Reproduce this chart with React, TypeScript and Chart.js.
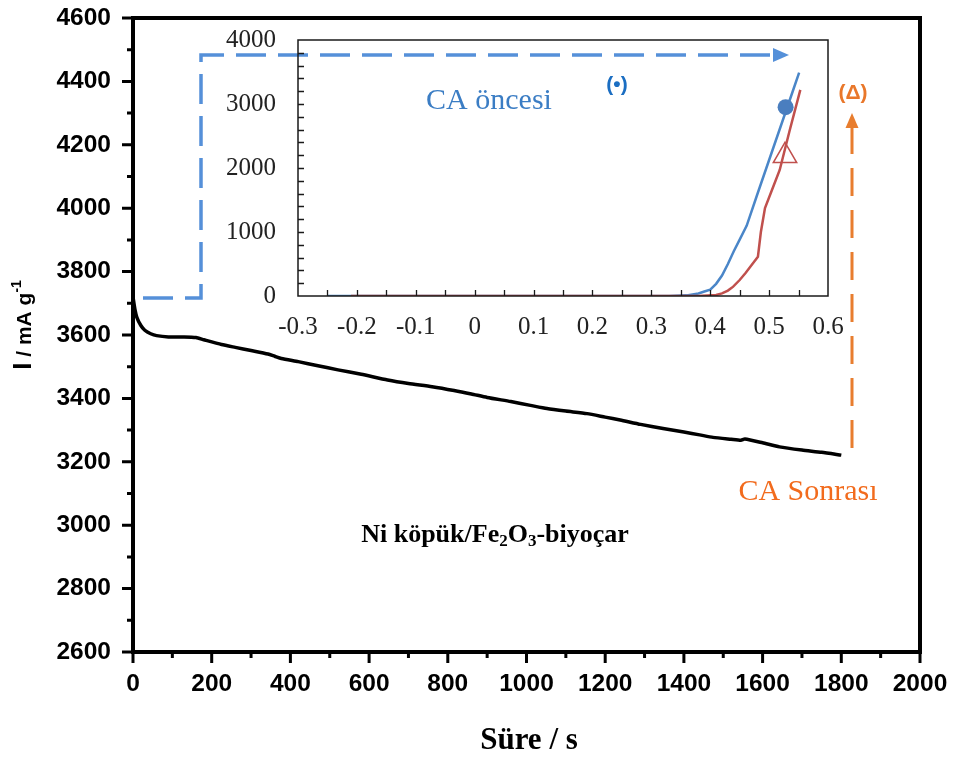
import React, { useEffect, useRef } from "react";
import { Chart, registerables } from "chart.js";
Chart.register(...registerables);

// Main chronoamperometry curve
const timeS = [0, 5, 10, 20, 30, 45, 60, 90, 130, 160, 180, 225, 260, 300, 343, 360, 377, 420, 470, 521, 580, 647, 700, 760, 816, 860, 900, 960, 1010, 1052, 1100, 1154, 1200, 1238, 1290, 1347, 1400, 1440, 1474, 1520, 1545, 1555, 1600, 1643, 1700, 1750, 1800];
const currentMain = [3720, 3680, 3655, 3630, 3615, 3604, 3598, 3594, 3594, 3592, 3585, 3570, 3561, 3551, 3540, 3533, 3526, 3516, 3503, 3490, 3476, 3458, 3447, 3437, 3425, 3414, 3403, 3390, 3378, 3368, 3360, 3352, 3341, 3332, 3318, 3305, 3294, 3285, 3277, 3271, 3268, 3272, 3260, 3247, 3237, 3230, 3221];
const mainXTicks = [0, 200, 400, 600, 800, 1000, 1200, 1400, 1600, 1800, 2000];
const mainYTicks = [2600, 2800, 3000, 3200, 3400, 3600, 3800, 4000, 4200, 4400, 4600];

// Inset LSV curves
const blueV = [-0.25, -0.2, -0.1, 0, 0.1, 0.2, 0.3, 0.33, 0.36, 0.38, 0.39, 0.4, 0.41, 0.42, 0.43, 0.44, 0.45, 0.462, 0.48, 0.5, 0.52, 0.54, 0.551];
const blueI = [0, 0, 0, 0, 0, 0, 0, 0, 10, 40, 70, 100, 190, 320, 500, 700, 880, 1100, 1590, 2125, 2660, 3195, 3490];
const redV = [-0.21, -0.1, 0, 0.1, 0.2, 0.3, 0.38, 0.41, 0.42, 0.43, 0.439, 0.45, 0.46, 0.47, 0.481, 0.486, 0.493, 0.505, 0.518, 0.535, 0.553];
const redI = [0, 0, 0, 0, 0, 0, 0, 15, 40, 85, 146, 250, 360, 480, 614, 1000, 1375, 1660, 1969, 2590, 3220];
const blueMarker = { x: 0.528, y: 2950 };
const redMarker = { x: 0.527, y: 2190 };
const insetXTicks = [-0.3, -0.2, -0.1, 0, 0.1, 0.2, 0.3, 0.4, 0.5, 0.6];
const insetXLabels = ["-0.3", "-0.2", "-0.1", "0", "0.1", "0.2", "0.3", "0.4", "0.5", "0.6"];
const insetYTicks = [0, 1000, 2000, 3000, 4000];

const SANS = "'Liberation Sans', Arial, sans-serif";
const SERIF = "'Liberation Serif', 'Times New Roman', serif";

function drawSegments(ctx: CanvasRenderingContext2D, segs: { t: string; font: string; dy: number }[], cx: number, baseY: number) {
  let w = 0;
  for (const s of segs) { ctx.font = s.font; w += ctx.measureText(s.t).width; }
  let x = cx - w / 2;
  ctx.textAlign = "left";
  ctx.textBaseline = "alphabetic";
  for (const s of segs) {
    ctx.font = s.font;
    ctx.fillText(s.t, x, baseY + s.dy);
    x += ctx.measureText(s.t).width;
  }
}

const mainDecor = {
  id: "mainDecor",
  afterDraw(chart: any) {
    const { ctx, chartArea: a, scales } = chart;
    const x = scales.x, y = scales.y;
    ctx.save();
    // frame
    ctx.strokeStyle = "#000";
    ctx.lineWidth = 4;
    ctx.strokeRect(a.left, a.top, a.right - a.left, a.bottom - a.top);
    // ticks
    ctx.lineWidth = 3;
    ctx.beginPath();
    for (let v = 2600; v <= 4600; v += 100) {
      const py = y.getPixelForValue(v);
      const len = v % 200 === 0 ? 11 : 6;
      ctx.moveTo(a.left - len, py); ctx.lineTo(a.left, py);
    }
    for (let v = 0; v <= 2000; v += 100) {
      const px = x.getPixelForValue(v);
      const len = v % 200 === 0 ? 11 : 6;
      ctx.moveTo(px, a.bottom); ctx.lineTo(px, a.bottom + len);
    }
    ctx.stroke();

    // tick labels
    ctx.fillStyle = "#000";
    ctx.font = `bold 24.5px ${SANS}`;
    ctx.textAlign = "right";
    ctx.textBaseline = "middle";
    for (const v of mainYTicks) ctx.fillText(String(v), a.left - 22, y.getPixelForValue(v));
    ctx.textAlign = "center";
    for (const v of mainXTicks) ctx.fillText(String(v), x.getPixelForValue(v), a.bottom + 32);

    // blue dashed arrow
    ctx.strokeStyle = "#5590d9";
    ctx.fillStyle = "#5590d9";
    ctx.lineWidth = 3.5;
    ctx.setLineDash([30, 12]);
    ctx.beginPath();
    ctx.moveTo(143, 298); ctx.lineTo(201, 298); ctx.lineTo(201, 55); ctx.lineTo(774, 55);
    ctx.stroke();
    ctx.setLineDash([]);
    ctx.beginPath();
    ctx.moveTo(789, 55); ctx.lineTo(773, 48); ctx.lineTo(773, 62); ctx.closePath(); ctx.fill();

    // orange dashed arrow
    ctx.strokeStyle = "#e87d2e";
    ctx.fillStyle = "#e87d2e";
    ctx.lineWidth = 3;
    ctx.setLineDash([28, 14]);
    ctx.beginPath();
    ctx.moveTo(852, 448); ctx.lineTo(852, 128);
    ctx.stroke();
    ctx.setLineDash([]);
    ctx.beginPath();
    ctx.moveTo(852, 113); ctx.lineTo(845.5, 128); ctx.lineTo(858.5, 128); ctx.closePath(); ctx.fill();

    // texts
    ctx.textAlign = "center";
    ctx.textBaseline = "middle";
    ctx.font = `bold 21px ${SANS}`;
    ctx.fillStyle = "#1b6ec2";
    ctx.fillText("(•)", 617, 85);
    ctx.fillStyle = "#e9772a";
    ctx.fillText("(Δ)", 853, 93);
    ctx.font = `30px ${SERIF}`;
    ctx.fillStyle = "#3b7dc4";
    ctx.fillText("CA öncesi", 489, 101);
    ctx.fillStyle = "#f26b1d";
    ctx.fillText("CA Sonrası", 808, 492);

    ctx.fillStyle = "#000";
    const bMain = `bold 26px ${SERIF}`;
    const bSub = `bold 17px ${SERIF}`;
    drawSegments(ctx, [
      { t: "Ni köpük/Fe", font: bMain, dy: 0 },
      { t: "2", font: bSub, dy: 4 },
      { t: "O", font: bMain, dy: 0 },
      { t: "3", font: bSub, dy: 4 },
      { t: "-biyoçar", font: bMain, dy: 0 },
    ], 495, 542);

    // x title
    ctx.textAlign = "center";
    ctx.textBaseline = "middle";
    ctx.font = `bold 31px ${SERIF}`;
    ctx.fillText("Süre / s", 529, 741);

    // y title
    ctx.save();
    ctx.translate(22, 325);
    ctx.rotate(-Math.PI / 2);
    drawSegments(ctx, [
      { t: "I", font: `bold 26px ${SANS}`, dy: 0 },
      { t: " / mA g", font: `bold 21px ${SANS}`, dy: 0 },
      { t: "-1", font: `bold 14px ${SANS}`, dy: -10 },
    ], 0, 9);
    ctx.restore();

    ctx.restore();
  },
};

const insetDecor = {
  id: "insetDecor",
  afterDraw(chart: any) {
    const { ctx, chartArea: a, scales } = chart;
    const x = scales.x, y = scales.y;
    ctx.save();
    ctx.strokeStyle = "#1a1a1a";
    ctx.lineWidth = 1.5;
    ctx.strokeRect(a.left, a.top, a.right - a.left, a.bottom - a.top);
    ctx.lineWidth = 1.3;
    ctx.beginPath();
    for (let v = 200; v < 4000; v += 200) {
      const py = Math.round(y.getPixelForValue(v)) + 0.5;
      ctx.moveTo(a.left, py); ctx.lineTo(a.left + 6, py);
    }
    for (let k = 1; k < 18; k++) {
      const v = -0.3 + k * 0.05;
      const px = Math.round(x.getPixelForValue(v)) + 0.5;
      ctx.moveTo(px, a.bottom); ctx.lineTo(px, a.bottom - 6);
    }
    ctx.stroke();

    ctx.fillStyle = "#222";
    ctx.font = `25px ${SERIF}`;
    ctx.textAlign = "right";
    ctx.textBaseline = "middle";
    for (const v of insetYTicks) ctx.fillText(String(v), a.left - 22, y.getPixelForValue(v));
    ctx.textAlign = "center";
    insetXTicks.forEach((v, i) => ctx.fillText(insetXLabels[i], x.getPixelForValue(v), a.bottom + 31));
    ctx.restore();
  },
};

export default function App() {
  const mainRef = useRef<HTMLCanvasElement>(null);
  const insetRef = useRef<HTMLCanvasElement>(null);

  useEffect(() => {
    const hiddenAxis = (min: number, max: number, fit: (s: any) => void) => ({
      type: "linear",
      min,
      max,
      grid: { display: false, drawTicks: false },
      border: { display: false },
      ticks: { display: false },
      afterFit: fit,
    });

    const main = new Chart(mainRef.current as HTMLCanvasElement, {
      type: "line",
      data: {
        datasets: [
          {
            data: timeS.map((t, i) => ({ x: t, y: currentMain[i] })),
            borderColor: "#000",
            borderWidth: 3.5,
            pointRadius: 0,
            tension: 0.2,
            fill: false,
          },
        ],
      },
      options: {
        animation: false,
        responsive: false,
        maintainAspectRatio: false,
        layout: { padding: { top: 18, right: 36, left: 0, bottom: 0 } },
        plugins: { legend: { display: false }, tooltip: { enabled: false } },
        scales: {
          x: hiddenAxis(0, 2000, (s: any) => { s.height = 108; }),
          y: hiddenAxis(2600, 4600, (s: any) => { s.width = 133; }),
        },
      } as any,
      plugins: [mainDecor],
    });

    const inset = new Chart(insetRef.current as HTMLCanvasElement, {
      type: "line",
      data: {
        datasets: [
          {
            data: [blueMarker],
            showLine: false,
            pointStyle: "circle",
            pointRadius: 8,
            backgroundColor: "#4a7ebf",
            borderColor: "#4a7ebf",
            borderWidth: 0,
          },
          {
            data: [redMarker],
            showLine: false,
            pointStyle: "triangle",
            pointRadius: 13.5,
            backgroundColor: "rgba(0,0,0,0)",
            borderColor: "#c0504d",
            borderWidth: 1.5,
          },
          {
            data: redV.map((v, i) => ({ x: v, y: redI[i] })),
            borderColor: "#c0504d",
            borderWidth: 2.5,
            pointRadius: 0,
            tension: 0,
            fill: false,
          },
          {
            data: blueV.map((v, i) => ({ x: v, y: blueI[i] })),
            borderColor: "#4a86c8",
            borderWidth: 2.5,
            pointRadius: 0,
            tension: 0,
            fill: false,
          },
        ],
      },
      options: {
        animation: false,
        responsive: false,
        maintainAspectRatio: false,
        layout: { padding: { top: 40, right: 128, left: 0, bottom: 0 } },
        plugins: { legend: { display: false }, tooltip: { enabled: false } },
        scales: {
          x: hiddenAxis(-0.3, 0.6, (s: any) => { s.height = 464; }),
          y: hiddenAxis(0, 4000, (s: any) => { s.width = 298; }),
        },
      } as any,
      plugins: [insetDecor],
    });

    return () => {
      main.destroy();
      inset.destroy();
    };
  }, []);

  return (
    <div style={{ position: "fixed", left: 0, top: 0, width: 956, height: 760, background: "#fff" }}>
      <canvas ref={mainRef} width={956} height={760} style={{ position: "absolute", left: 0, top: 0, display: "block" }} />
      <canvas ref={insetRef} width={956} height={760} style={{ position: "absolute", left: 0, top: 0, display: "block" }} />
    </div>
  );
}
